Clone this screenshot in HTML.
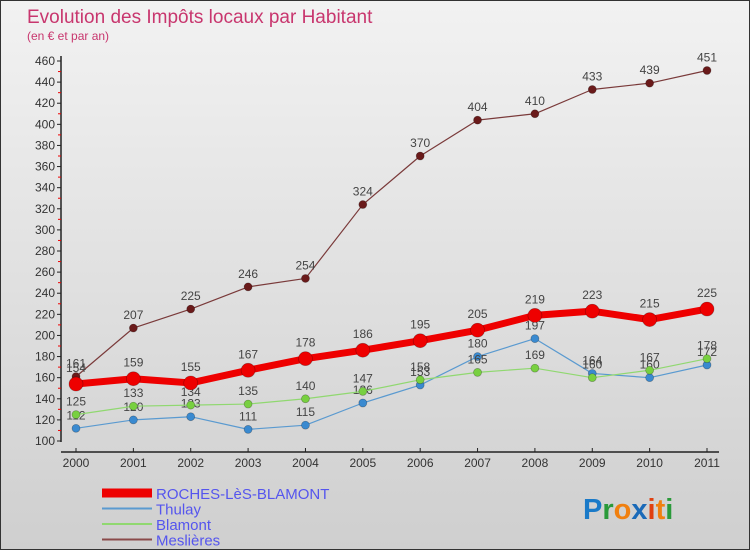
<!DOCTYPE html>
<html><head><meta charset="utf-8"><style>
body{margin:0}
#c{width:750px;height:550px;position:relative;background:linear-gradient(#f2f2f2,#cfcfcf);box-sizing:border-box;border:1px solid #333;font-family:"Liberation Sans",sans-serif;overflow:hidden}
</style></head><body>
<div id="c">
<svg width="750" height="550" style="position:absolute;left:0;top:0" id="svg">
<text x="26" y="22" font-size="19" fill="#c8366e">Evolution des Impôts locaux par Habitant</text>
<text x="26" y="39" font-size="12" fill="#c8366e">(en € et par an)</text>
<g id="axes"></g><g id="series"></g><g id="legend"></g>
<text x="582" y="518" font-size="29" font-weight="bold"><tspan fill="#1a7ac8">P</tspan><tspan fill="#2a9a3a">r</tspan><tspan fill="#f08010">o</tspan><tspan fill="#1a6ab8">x</tspan><tspan fill="#e04010">i</tspan><tspan fill="#f08010">t</tspan><tspan fill="#2a9a3a">i</tspan></text>
</svg>
</div>
<script>
const years=["2000","2001","2002","2003","2004","2005","2006","2007","2008","2009","2010","2011"];
const yTicks=[100,120,140,160,180,200,220,240,260,280,300,320,340,360,380,400,420,440,460];
const roches=[154,159,155,167,178,186,195,205,219,223,215,225];
const thulay=[112,120,123,111,115,136,153,180,197,164,160,172];
const blamont=[125,133,134,135,140,147,158,165,169,160,167,178];
const meslieres=[161,207,225,246,254,324,370,404,410,433,439,451];
const NS="http://www.w3.org/2000/svg";
const X=i=>75+i*(706-75)/11;
const Y=v=>440-(v-100)*380/360;
function mk(t,a,p){const e=document.createElementNS(NS,t);for(const k in a)e.setAttribute(k,a[k]);p.appendChild(e);return e;}
const ax=document.getElementById('axes');
let e=mk('line',{x1:60,y1:55,x2:60,y2:441,stroke:'#222','stroke-width':1.5},ax);


e=mk('line',{x1:60,y1:451,x2:718,y2:451,stroke:'#222','stroke-width':1.5},ax);


yTicks.forEach(v=>{
 mk('line',{x1:56,y1:Y(v),x2:60,y2:Y(v),stroke:'#222'},ax);
 if(v<460)mk('line',{x1:57,y1:Y(v+10),x2:60,y2:Y(v+10),stroke:'#e00'},ax);
 const t=mk('text',{x:54,y:Y(v)+4,'font-size':12,'text-anchor':'end',fill:'#333'},ax);t.textContent=v;
 
 
});
years.forEach((y,i)=>{
 mk('line',{x1:X(i),y1:447,x2:X(i),y2:451,stroke:'#222'},ax);
 const t=mk('text',{x:X(i),y:466,'font-size':12,'text-anchor':'middle',fill:'#333'},ax);t.textContent=y;
 
 
});
const sg=document.getElementById('series');
function series(d,name,col,w,r,dot){
 const g=mk('g',{},sg);
 
 
 mk('polyline',{points:d.map((v,i)=>X(i)+','+Y(v)).join(' '),fill:'none',stroke:col,'stroke-width':w,'stroke-linejoin':'round'},g);
 d.forEach((v,i)=>{
  const c=mk('circle',{cx:X(i),cy:Y(v),r:r,fill:dot,stroke:'rgba(0,0,0,0.3)','stroke-width':0.7},g);
  
  
  const t=mk('text',{x:X(i),y:Y(v)-r-5,'font-size':12,'text-anchor':'middle',fill:'#444'},g);t.textContent=v;
  
  
 });
}
series(meslieres,'meslieres','#7a3a3a',1.2,4,'#6a1a1a');
series(thulay,'thulay','#5a9ad0',1.2,4,'#3a8ad0');
series(blamont,'blamont','#90d870',1.2,4,'#78d040');
series(roches,'roches','#ee0000',7,7,'#ee0000');
const lg=document.getElementById('legend');
const items=[["ROCHES-LèS-BLAMONT","#ee0000",9],["Thulay","#5a9ad0",2],["Blamont","#90d870",2],["Meslières","#8a4a4a",2]];
items.forEach((it,i)=>{
 const y=492+i*15.5;
 const l=mk('line',{x1:101,y1:y,x2:151,y2:y,stroke:it[1],'stroke-width':it[2]},lg);
 
 
 const t=mk('text',{x:155,y:y+6,'font-size':15,fill:'#5555ee'},lg);t.textContent=it[0];
 
 
});
</script>
</body></html>
